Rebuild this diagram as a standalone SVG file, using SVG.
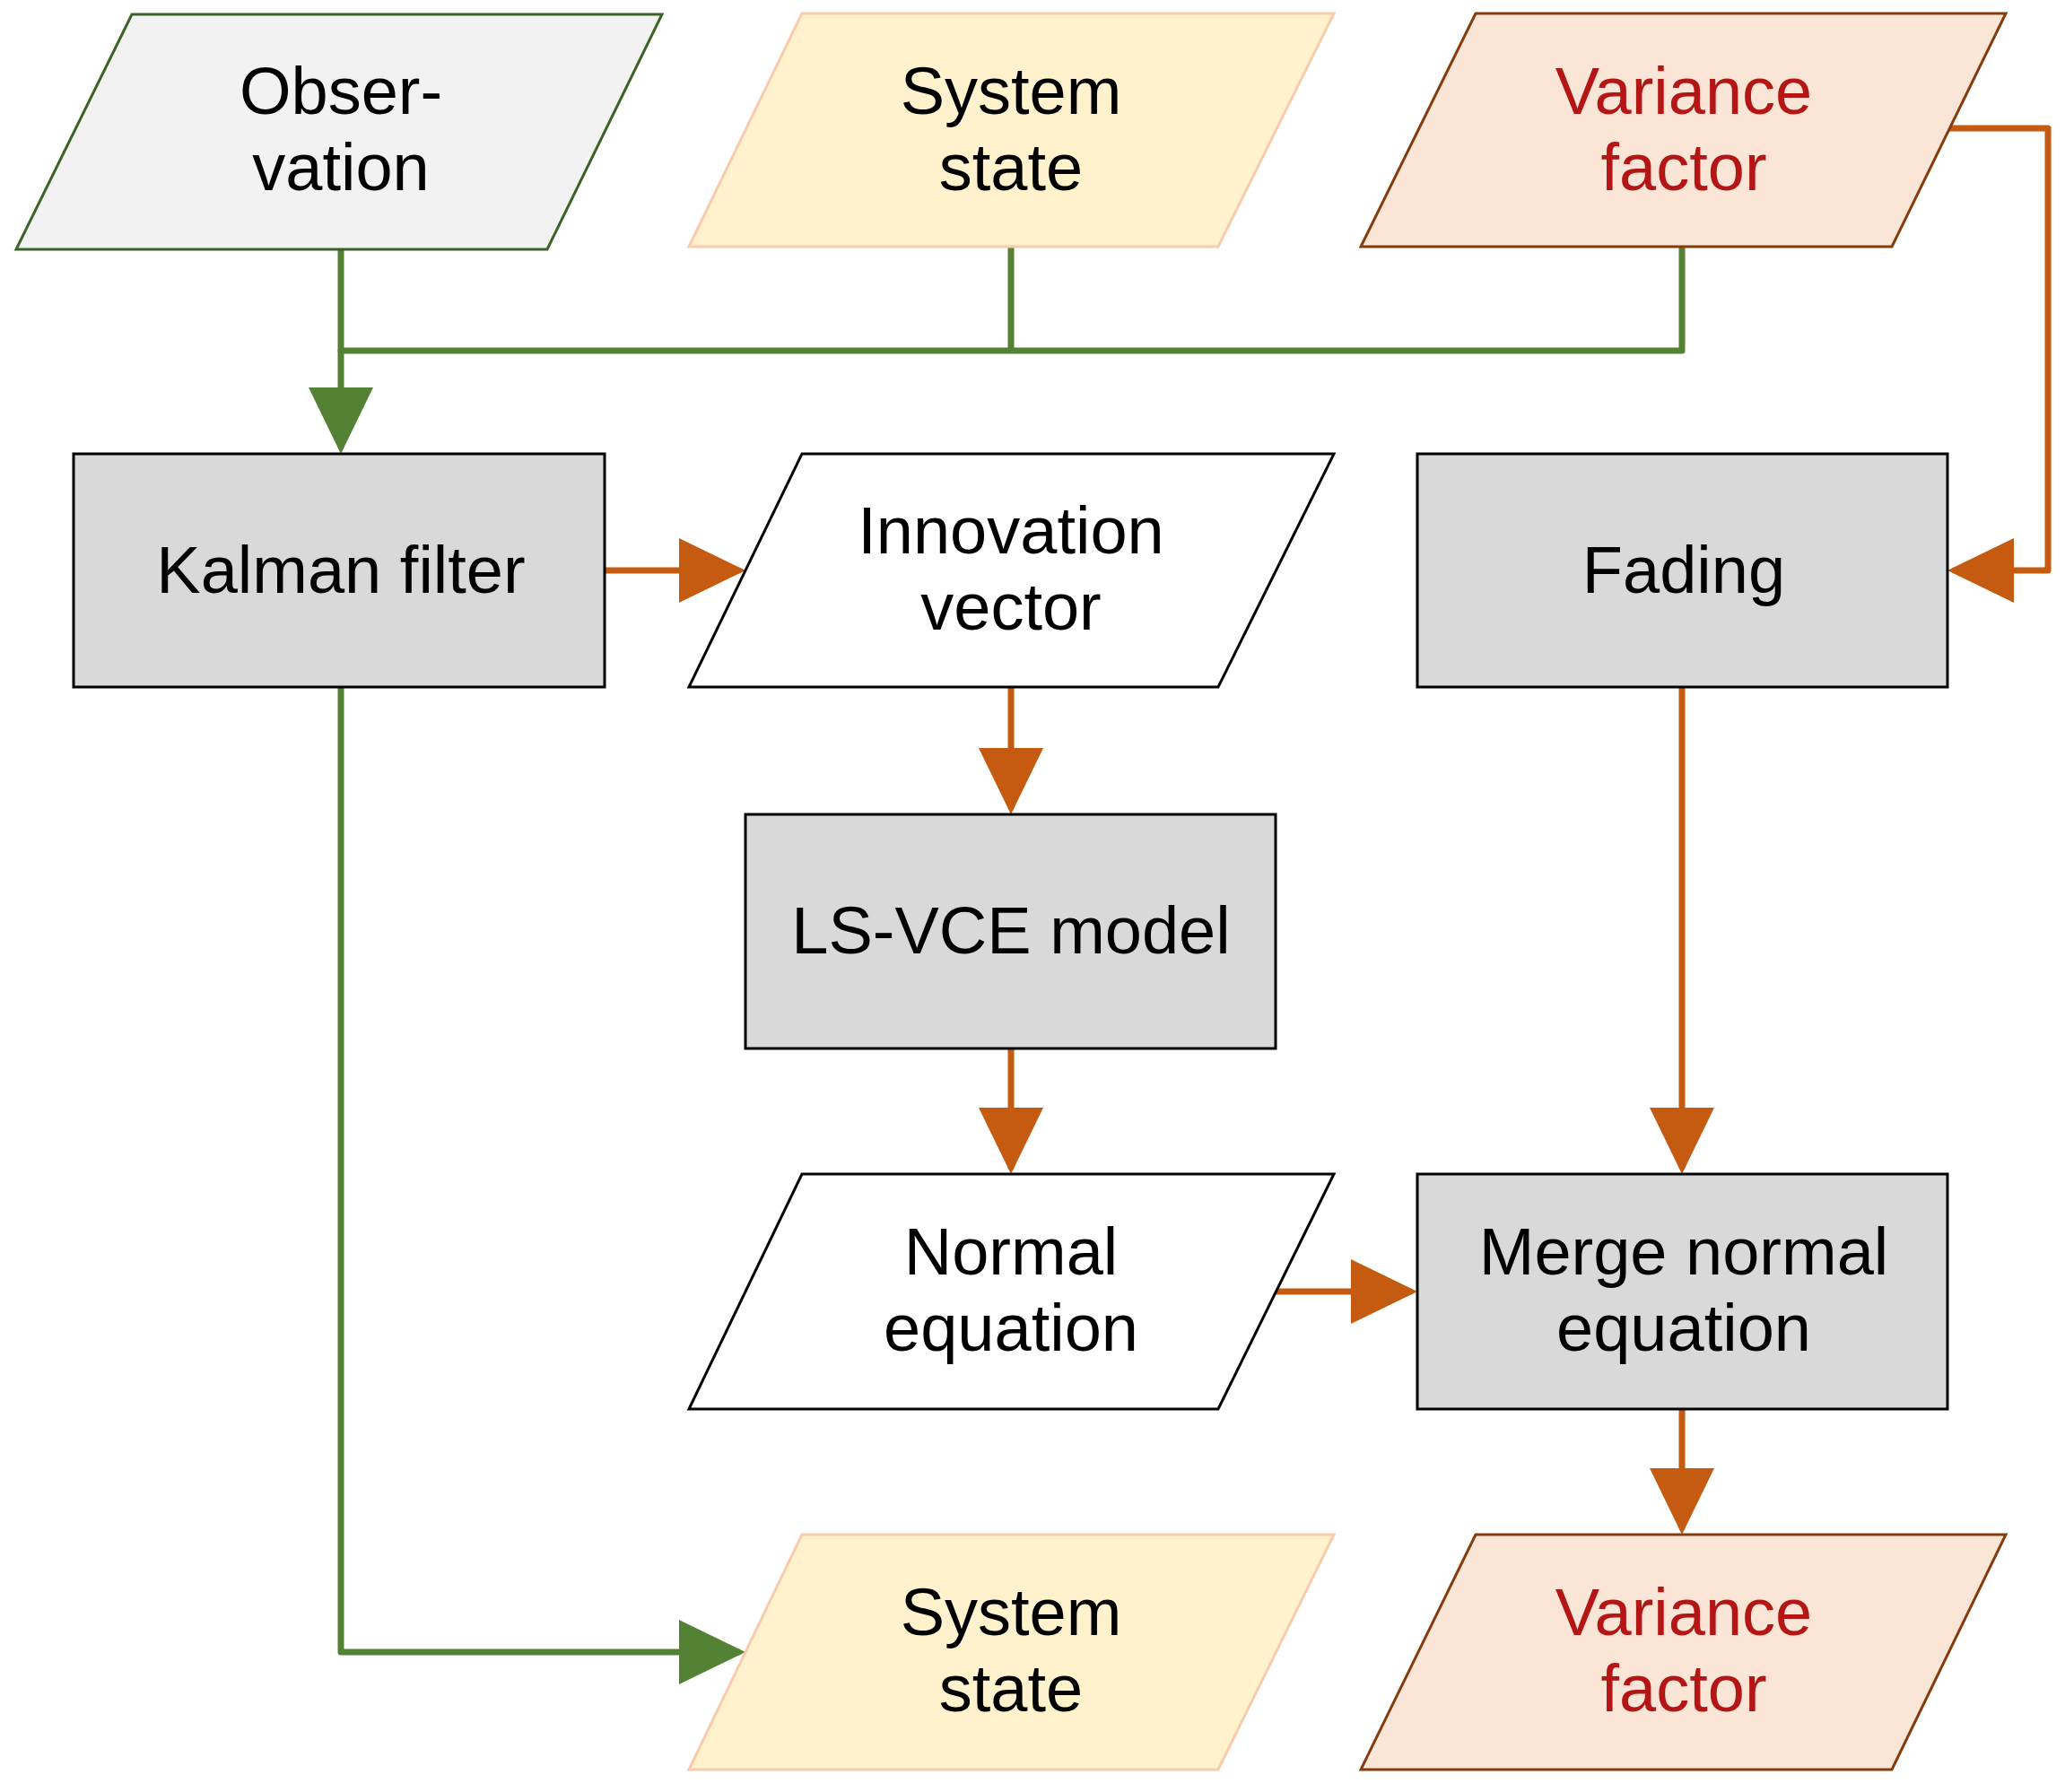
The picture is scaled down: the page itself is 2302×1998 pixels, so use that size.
<svg xmlns="http://www.w3.org/2000/svg" width="2302" height="1998" viewBox="0 0 2302 1998">
<style>
text{font-family:"Liberation Sans",Arial,sans-serif;font-size:74px;text-anchor:middle;fill:#000}
.red{fill:#B41616}
.proc{fill:#D9D9D9;stroke:#000;stroke-width:3}
.io{fill:#FFFFFF;stroke:#000;stroke-width:3}
.obs{fill:#F2F2F2;stroke:#3B6326;stroke-width:3}
.ss{fill:#FFF2CC;stroke:#F8CBAD;stroke-width:3}
.vf{fill:#FBE5D6;stroke:#843C0C;stroke-width:3}
.g{fill:none;stroke:#548235;stroke-width:7;stroke-linecap:round;stroke-linejoin:round}
.o{fill:none;stroke:#C55A11;stroke-width:7;stroke-linecap:round;stroke-linejoin:round}
</style>
<defs>
<marker id="ag" markerUnits="userSpaceOnUse" markerWidth="76" markerHeight="76" refX="66" refY="36" orient="auto" viewBox="0 0 76 76"><path d="M0,0 L74,36 L0,72 z" fill="#548235"/></marker>
<marker id="ao" markerUnits="userSpaceOnUse" markerWidth="76" markerHeight="76" refX="66" refY="36" orient="auto" viewBox="0 0 76 76"><path d="M0,0 L74,36 L0,72 z" fill="#C55A11"/></marker>
</defs>
<g id="connectors">
<path class="g" d="M380,278 V498" marker-end="url(#ag)"/>
<path class="g" d="M380,391 H1875 V275 M1127,275 V391"/>
<path class="g" d="M380,766 V1842 H823" marker-end="url(#ag)"/>
<path class="o" d="M674,636 H823" marker-end="url(#ao)"/>
<path class="o" d="M2171,143 H2283 V636 H2179" marker-end="url(#ao)"/>
<path class="o" d="M1127,766 V900" marker-end="url(#ao)"/>
<path class="o" d="M1127,1169 V1301" marker-end="url(#ao)"/>
<path class="o" d="M1420,1440 H1572" marker-end="url(#ao)"/>
<path class="o" d="M1875,766 V1301" marker-end="url(#ao)"/>
<path class="o" d="M1875,1571 V1703" marker-end="url(#ao)"/>
</g>
<g id="observation"><polygon class="obs" points="147,16 738,16 610,278 18,278"/><text x="380" y="127">Obser-</text><text x="380" y="212">vation</text></g>
<g id="system-state-top"><polygon class="ss" points="894,15 1487,15 1358,275 768,275"/><text x="1127" y="127">System</text><text x="1127" y="212">state</text></g>
<g id="variance-factor-top"><polygon class="vf" points="1645,15 2236,15 2109,275 1517,275"/><text class="red" x="1877" y="127">Variance</text><text class="red" x="1877" y="212">factor</text></g>
<g id="kalman-filter"><rect class="proc" x="82" y="506" width="592" height="260"/><text x="380" y="661">Kalman filter</text></g>
<g id="innovation-vector"><polygon class="io" points="894,506 1487,506 1358,766 768,766"/><text x="1127" y="617">Innovation</text><text x="1127" y="702">vector</text></g>
<g id="fading"><rect class="proc" x="1580" y="506" width="591" height="260"/><text x="1877" y="661">Fading</text></g>
<g id="ls-vce-model"><rect class="proc" x="831" y="908" width="591" height="261"/><text x="1127" y="1063">LS-VCE model</text></g>
<g id="normal-equation"><polygon class="io" points="894,1309 1487,1309 1358,1571 768,1571"/><text x="1127" y="1421">Normal</text><text x="1127" y="1506">equation</text></g>
<g id="merge-normal-equation"><rect class="proc" x="1580" y="1309" width="591" height="262"/><text x="1877" y="1421">Merge normal</text><text x="1877" y="1506">equation</text></g>
<g id="system-state-bottom"><polygon class="ss" points="894,1711 1487,1711 1358,1973 768,1973"/><text x="1127" y="1823">System</text><text x="1127" y="1908">state</text></g>
<g id="variance-factor-bottom"><polygon class="vf" points="1645,1711 2236,1711 2109,1973 1517,1973"/><text class="red" x="1877" y="1823">Variance</text><text class="red" x="1877" y="1908">factor</text></g>
</svg>
